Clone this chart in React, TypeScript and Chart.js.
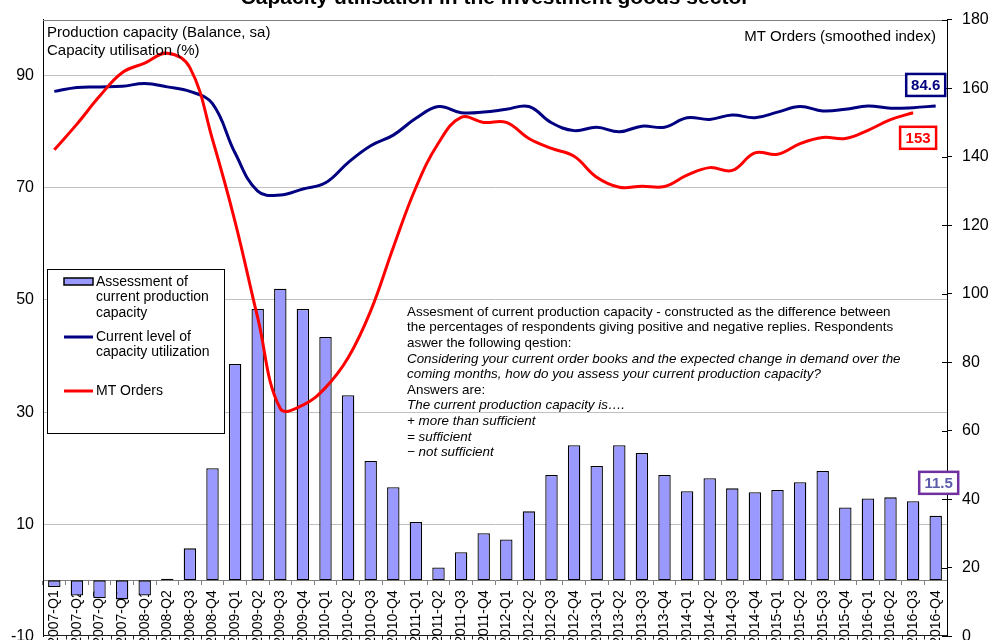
import React, { useEffect, useRef } from 'react';
import { Chart, registerables } from 'chart.js';

Chart.register(...registerables);

const categories = [
  '2007-Q1', '2007-Q2', '2007-Q3', '2007-Q4',
  '2008-Q1', '2008-Q2', '2008-Q3', '2008-Q4',
  '2009-Q1', '2009-Q2', '2009-Q3', '2009-Q4',
  '2010-Q1', '2010-Q2', '2010-Q3', '2010-Q4',
  '2011-Q1', '2011-Q2', '2011-Q3', '2011-Q4',
  '2012-Q1', '2012-Q2', '2012-Q3', '2012-Q4',
  '2013-Q1', '2013-Q2', '2013-Q3', '2013-Q4',
  '2014-Q1', '2014-Q2', '2014-Q3', '2014-Q4',
  '2015-Q1', '2015-Q2', '2015-Q3', '2015-Q4',
  '2016-Q1', '2016-Q2', '2016-Q3', '2016-Q4',
];

// Assessment of current production capacity (balance, left axis)
const assessment = [
  -1.2, -2.7, -3.2, -3.4,
  -2.7, 0.3, 5.7, 20.0,
  38.6, 48.4, 52.0, 48.4,
  43.4, 33.0, 21.3, 16.6,
  10.4, 2.3, 5.0, 8.4,
  7.3, 12.3, 18.8, 24.1,
  20.4, 24.1, 22.7, 18.8,
  15.9, 18.2, 16.4, 15.7,
  16.1, 17.5, 19.5, 13.0,
  14.6, 14.8, 14.1, 11.5,
];

// Current level of capacity utilization (%, left axis)
const utilisation = [
  87.2, 87.9, 88.0, 88.1,
  88.6, 88.0, 87.2, 85.0,
  76.2, 69.4, 68.7, 69.8,
  70.9, 74.5, 77.5, 79.4,
  82.4, 84.5, 83.4, 83.5,
  84.0, 84.5, 81.6, 80.2,
  80.8, 80.0, 81.0, 80.8,
  82.5, 82.2, 83.0, 82.5,
  83.5, 84.5, 83.7, 84.0,
  84.6, 84.2, 84.3, 84.6,
];

// MT Orders, smoothed index (right axis)
const mtOrders = [
  142.0, 149.5, 157.6, 164.5,
  167.3, 170.2, 166.0, 145.0,
  121.0, 93.0, 66.5, 67.5,
  72.6, 81.3, 95.0, 113.5,
  131.0, 144.0, 151.5, 150.0,
  150.0, 145.3, 142.4, 140.1,
  134.0, 131.1, 131.4, 131.3,
  134.6, 136.8, 136.0, 141.1,
  140.7, 143.8, 145.6, 145.3,
  147.7, 150.8, 152.8, null,
];

const leftTicks = [-10, 10, 30, 50, 70, 90];
const rightTicks = [0, 20, 40, 60, 80, 100, 120, 140, 160, 180];

const titleText = 'Capacity utilisation in the investment goods sector';
const leftAxisTitle1 = 'Production capacity (Balance, sa)';
const leftAxisTitle2 = 'Capacity utilisation (%)';
const rightAxisTitle = 'MT Orders (smoothed index)';

const legendBarLabel = ['Assessment of', 'current production', 'capacity'];
const legendBlueLabel = ['Current level of', 'capacity utilization'];
const legendRedLabel = ['MT Orders'];

const noteLines: [string, boolean][] = [
  ['Assesment of current production capacity - constructed as the difference between', false],
  ['the percentages of respondents giving positive and negative replies. Respondents', false],
  ['aswer the following qestion:', false],
  ['Considering your current order books and the expected change in demand over the', true],
  ['coming months, how do you assess your current production capacity?', true],
  ['Answers are:', false],
  ['The current production capacity is\u2026.', true],
  ['+ more than sufficient', true],
  ['= sufficient', true],
  ['\u2212 not sufficient', true],
];

const SANS = "'Liberation Sans', Arial, sans-serif";

const BAR_FILL = '#9999FF';
const BLUE = '#000080';
const RED = '#FF0000';

const overlayPlugin = {
  id: 'overlay',
  afterDraw(chart: any) {
    const ctx = chart.ctx;
    const ca = chart.chartArea;
    const xs = chart.scales.x;
    const ys = chart.scales.y;
    const y2 = chart.scales.y2;
    ctx.save();

    // top frame
    ctx.strokeStyle = '#808080';
    ctx.lineWidth = 1;
    ctx.beginPath();
    ctx.moveTo(ca.left, Math.round(ca.top) + 0.5);
    ctx.lineTo(ca.right, Math.round(ca.top) + 0.5);
    ctx.stroke();

    // bottom line with ticks at category boundaries
    ctx.strokeStyle = '#202020';
    ctx.beginPath();
    const by = Math.round(ca.bottom) - 0.5;
    ctx.moveTo(ca.left, by);
    ctx.lineTo(ca.right, by);
    const n = categories.length;
    const step = (ca.right - ca.left) / n;
    for (let i = 1; i < n; i++) {
      const x = Math.round(ca.left + i * step) + 0.5;
      ctx.moveTo(x, by);
      ctx.lineTo(x, by + 4);
    }
    ctx.stroke();

    // right axis inward ticks
    ctx.strokeStyle = '#000';
    ctx.beginPath();
    rightTicks.forEach((v) => {
      const y = Math.round(y2.getPixelForValue(v)) + 0.5;
      ctx.moveTo(ca.right - 5, y);
      ctx.lineTo(ca.right, y);
    });
    ctx.stroke();

    // title (clipped at top)
    ctx.fillStyle = '#000';
    ctx.font = `bold 21px ${SANS}`;
    ctx.textAlign = 'center';
    ctx.textBaseline = 'alphabetic';
    ctx.fillText(titleText, 495, 4);

    // axis titles
    ctx.font = `15px ${SANS}`;
    ctx.textAlign = 'left';
    ctx.textBaseline = 'middle';
    ctx.fillText(leftAxisTitle1, ca.left + 4, 33);
    ctx.fillText(leftAxisTitle2, ca.left + 4, 51);
    ctx.textAlign = 'right';
    ctx.fillText(rightAxisTitle, ca.right - 11, 37);

    // legend
    const lx = 47.5, ly = 269.5, lw = 177, lh = 164;
    ctx.fillStyle = '#fff';
    ctx.fillRect(lx, ly, lw, lh);
    ctx.strokeStyle = '#000';
    ctx.lineWidth = 1;
    ctx.strokeRect(lx, ly, lw, lh);
    ctx.fillStyle = BAR_FILL;
    ctx.fillRect(64, 278, 29, 7);
    ctx.lineWidth = 1.5;
    ctx.strokeRect(64, 278, 29, 7);
    ctx.lineWidth = 3;
    ctx.strokeStyle = BLUE;
    ctx.beginPath();
    ctx.moveTo(64, 337);
    ctx.lineTo(93, 337);
    ctx.stroke();
    ctx.strokeStyle = RED;
    ctx.beginPath();
    ctx.moveTo(64, 391);
    ctx.lineTo(93, 391);
    ctx.stroke();
    ctx.fillStyle = '#000';
    ctx.font = `14px ${SANS}`;
    ctx.textAlign = 'left';
    ctx.textBaseline = 'middle';
    legendBarLabel.forEach((t, i) => ctx.fillText(t, 96, 282 + i * 15.5));
    legendBlueLabel.forEach((t, i) => ctx.fillText(t, 96, 337 + i * 15.5));
    legendRedLabel.forEach((t, i) => ctx.fillText(t, 96, 391 + i * 15.5));

    // explanatory note
    noteLines.forEach(([t, it], i) => {
      ctx.font = `${it ? 'italic ' : ''}13.4px ${SANS}`;
      ctx.fillText(t, 407, 312 + i * 15.6);
    });

    // value boxes
    const drawBox = (text: string, cx: number, cy: number, w: number, textColor: string, border: string) => {
      const h = 22;
      ctx.fillStyle = '#fff';
      ctx.fillRect(cx - w / 2, cy - h / 2, w, h);
      ctx.lineWidth = 2.5;
      ctx.strokeStyle = border;
      ctx.strokeRect(cx - w / 2, cy - h / 2, w, h);
      ctx.fillStyle = textColor;
      ctx.font = `bold 15px ${SANS}`;
      ctx.textAlign = 'center';
      ctx.textBaseline = 'middle';
      ctx.fillText(text, cx, cy + 1);
    };
    const last = categories.length - 1;
    const bx = xs.getPixelForValue(last);
    drawBox(String(utilisation[last]), bx - 10, ys.getPixelForValue(utilisation[last]) - 21, 39, BLUE, BLUE);
    let rIdx = last;
    while (rIdx > 0 && mtOrders[rIdx] == null) rIdx--;
    const rv = mtOrders[rIdx] as number;
    drawBox(String(Math.round(rv)), xs.getPixelForValue(rIdx) + 5, y2.getPixelForValue(rv) + 25, 36, RED, RED);
    drawBox(String(assessment[last]), bx + 3, ys.getPixelForValue(assessment[last]) - 33, 39, '#5B5BAA', '#7030A0');

    ctx.restore();
  },
};

export default function App() {
  const ref = useRef<HTMLCanvasElement | null>(null);

  useEffect(() => {
    document.body.style.margin = '0';
    const canvas = ref.current;
    if (!canvas) return;
    const chart = new Chart(canvas, {
      type: 'bar',
      data: {
        labels: categories,
        datasets: [
          {
            type: 'line',
            label: 'MT Orders',
            data: mtOrders,
            borderColor: RED,
            borderWidth: 3,
            pointRadius: 0,
            tension: 0.4,
            fill: false,
            yAxisID: 'y2',
            order: 1,
          } as any,
          {
            type: 'line',
            label: 'Current level of capacity utilization',
            data: utilisation,
            borderColor: BLUE,
            borderWidth: 3,
            pointRadius: 0,
            tension: 0.4,
            fill: false,
            yAxisID: 'y',
            order: 2,
          },
          {
            type: 'bar',
            label: 'Assessment of current production capacity',
            data: assessment,
            backgroundColor: BAR_FILL,
            borderColor: '#000',
            borderWidth: 1.3,
            borderSkipped: false,
            barPercentage: 0.55,
            categoryPercentage: 1,
            yAxisID: 'y',
            order: 3,
          },
        ],
      },
      options: {
        responsive: false,
        animation: false,
        devicePixelRatio: 1,
        layout: { padding: { top: 19, bottom: 5, left: 0, right: 0 } },
        plugins: {
          legend: { display: false },
          tooltip: { enabled: false },
          title: { display: false },
        },
        scales: {
          x: {
            type: 'category',
            position: { y: 0 } as any,
            offset: true,
            grid: {
              offset: true,
              drawOnChartArea: false,
              drawTicks: true,
              tickLength: 4,
              color: '#808080',
            },
            border: { display: true, color: '#808080', width: 1 },
            ticks: {
              autoSkip: false,
              minRotation: 90,
              maxRotation: 90,
              padding: 6,
              color: '#000',
              font: { family: SANS, size: 14 },
            },
          },
          y: {
            type: 'linear',
            position: 'left',
            min: -10,
            max: 100,
            afterBuildTicks: (s: any) => {
              s.ticks = leftTicks.map((v) => ({ value: v }));
            },
            afterFit: (s: any) => {
              s.width = 43;
            },
            grid: {
              drawTicks: false,
              color: (c: any) => (c.tick && c.tick.value === -10 ? 'rgba(0,0,0,0)' : '#C0C0C0'),
              lineWidth: 1,
            },
            border: { display: true, color: '#000', width: 1 },
            ticks: {
              padding: 9,
              color: '#000',
              font: { family: SANS, size: 16 },
            },
          },
          y2: {
            type: 'linear',
            position: 'right',
            min: 0,
            max: 180,
            afterBuildTicks: (s: any) => {
              s.ticks = rightTicks.map((v) => ({ value: v }));
            },
            afterFit: (s: any) => {
              s.width = 48;
            },
            grid: {
              drawOnChartArea: false,
              drawTicks: true,
              tickLength: 5,
              color: '#000',
            },
            border: { display: true, color: '#000', width: 1 },
            ticks: {
              padding: 10,
              color: '#000',
              font: { family: SANS, size: 16 },
            },
          },
        },
      },
      plugins: [overlayPlugin],
    });
    return () => chart.destroy();
  }, []);

  return (
    <div style={{ position: 'absolute', left: 0, top: 0, width: 995, height: 640, overflow: 'hidden', background: '#fff' }}>
      <canvas ref={ref} width={995} height={656} style={{ display: 'block', width: 995, height: 656 }} />
    </div>
  );
}
